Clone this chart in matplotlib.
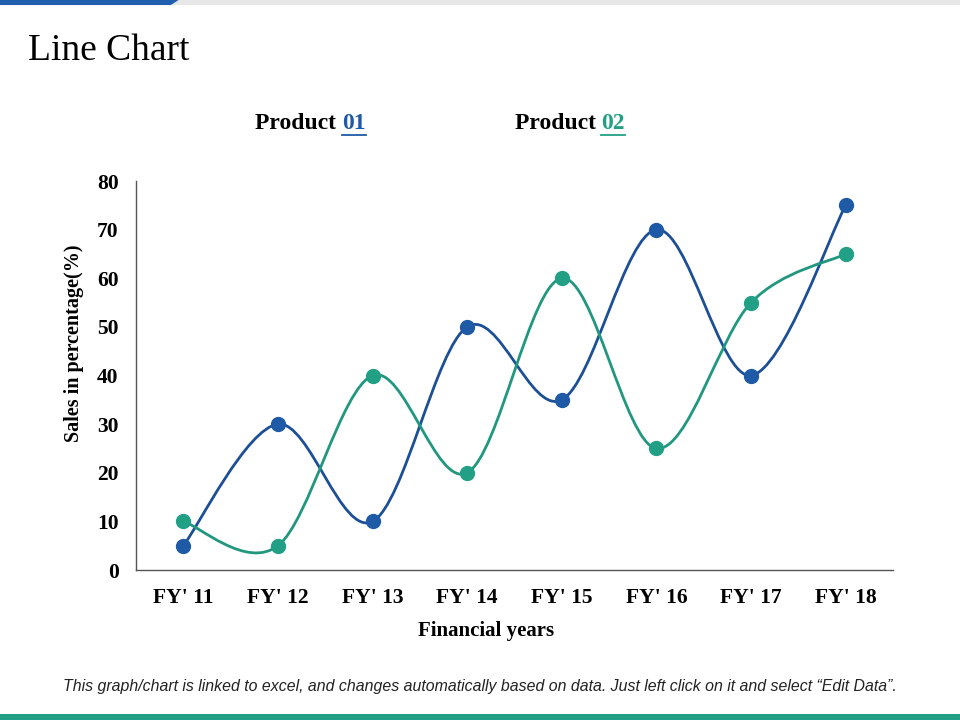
import matplotlib.pyplot as plt
from matplotlib.path import Path
from matplotlib.patches import PathPatch, Polygon, Rectangle
from matplotlib.lines import Line2D

# Chart data
years = ["FY' 11", "FY' 12", "FY' 13", "FY' 14", "FY' 15", "FY' 16", "FY' 17", "FY' 18"]
product_01 = [5, 30, 10, 50, 35, 70, 40, 75]
product_02 = [10, 5, 40, 20, 60, 25, 55, 65]

blue = '#1F5AA6'
blue_line = '#1D4F96'
teal = '#22A086'
teal_line = '#21977F'

serif = ['Liberation Serif', 'DejaVu Serif']


def smooth_path(xs, ys):
    # Excel-like smoothed line: cubic Bezier segments through every point
    pts = list(zip(xs, ys))
    verts = [pts[0]]
    codes = [Path.MOVETO]
    n = len(pts)
    for i in range(n - 1):
        p0 = pts[i - 1] if i > 0 else pts[i]
        p1 = pts[i]
        p2 = pts[i + 1]
        p3 = pts[i + 2] if i + 2 < n else pts[i + 1]
        c1 = (p1[0] + (p2[0] - p0[0]) / 6, p1[1] + (p2[1] - p0[1]) / 6)
        c2 = (p2[0] - (p3[0] - p1[0]) / 6, p2[1] - (p3[1] - p1[1]) / 6)
        verts += [c1, c2, p2]
        codes += [Path.CURVE4] * 3
    return Path(verts, codes)


fig = plt.figure(figsize=(9.6, 7.2), dpi=100)
ax = fig.add_axes([0.1417, 0.2083, 0.7885, 0.5403])

x = list(range(len(years)))
for vals, lc, mc in [(product_01, blue_line, blue), (product_02, teal_line, teal)]:
    ax.add_patch(PathPatch(smooth_path(x, vals), fill=False, edgecolor=lc, lw=2.0, zorder=2))
    ax.plot(x, vals, linestyle='none', marker='o', ms=10, color=mc, zorder=3)

ax.set_xlim(-0.5, 7.5)
ax.set_ylim(0, 80)
ax.set_xticks(x)
ax.set_xticklabels(years)
ax.set_yticks(range(0, 81, 10))
ax.tick_params(length=0)
for lab in ax.get_xticklabels() + ax.get_yticklabels():
    lab.set_family(serif)
    lab.set_fontweight('bold')
    lab.set_fontsize(15.5)
ax.tick_params(axis='y', pad=12.5)
ax.tick_params(axis='x', pad=13)

for side in ['top', 'right']:
    ax.spines[side].set_visible(False)
for side in ['left', 'bottom']:
    ax.spines[side].set_color('#555555')
    ax.spines[side].set_linewidth(1)

ax.set_xlabel('Financial years', family=serif, fontweight='bold', fontsize=15)
ax.xaxis.set_label_coords(0.462, -0.132)
ax.set_ylabel('Sales in percentage(%)', family=serif, fontweight='bold', fontsize=14.5)
ax.yaxis.set_label_coords(-0.069, 0.583)

# Title
fig.text(0.029, 0.929, 'Line Chart', family=serif, fontsize=27, va='center', ha='left')

# Legend-like headers
for xpos, num, col in [(0.266, '01', blue), (0.536, '02', teal)]:
    t1 = fig.text(xpos, 0.828, 'Product ', family=serif, fontweight='bold', fontsize=17, va='center')
    fig.canvas.draw()
    bb = t1.get_window_extent().transformed(fig.transFigure.inverted())
    t2 = fig.text(bb.x1, 0.828, num, family=serif, fontweight='bold', fontsize=17, va='center', color=col)
    fig.canvas.draw()
    bb2 = t2.get_window_extent().transformed(fig.transFigure.inverted())
    fig.add_artist(Line2D([bb2.x0, bb2.x1], [0.8125, 0.8125], color=col, lw=1.3))

# Top decoration bar
fig.add_artist(Rectangle((0, 0.993), 1, 0.007, transform=fig.transFigure, color='#E8E8E8', lw=0))
fig.add_artist(Polygon([[0, 0.993], [0.178, 0.993], [0.186, 1.0], [0, 1.0]], closed=True,
                       transform=fig.transFigure, color='#1F5FAD', lw=0))

# Bottom bar
fig.add_artist(Rectangle((0, 0), 1, 0.008, transform=fig.transFigure, color='#22A086', lw=0))

# Footnote
fig.text(0.5, 0.047, 'This graph/chart is linked to excel, and changes automatically based on data. '
         'Just left click on it and select \u201cEdit Data\u201d.',
         family=['Liberation Sans', 'DejaVu Sans'], style='italic', fontsize=11.4,
         ha='center', va='center', color='#222222')

fig.savefig('out.png', dpi=100)
